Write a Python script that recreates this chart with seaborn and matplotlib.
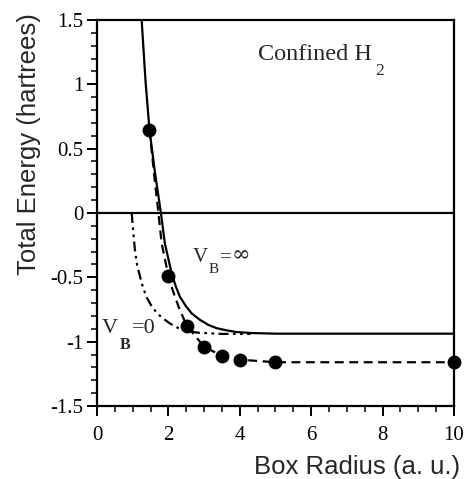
import matplotlib
matplotlib.use("Agg")
import matplotlib.pyplot as plt
import seaborn as sns
import numpy as np
import pandas as pd
from matplotlib.ticker import MultipleLocator, FuncFormatter

# V_B = infinity curve (solid)
inf_r = [1.25, 1.36, 1.47, 1.62, 1.79, 1.90, 2.09, 2.20, 2.32, 2.48, 2.65, 2.88,
         3.12, 3.35, 3.59, 3.90, 4.33, 5.00, 10.0]
inf_e = [1.50, 1.02, 0.645, 0.32, 0.00, -0.235, -0.47, -0.565, -0.65, -0.72, -0.78,
         -0.83, -0.87, -0.895, -0.91, -0.925, -0.933, -0.938, -0.938]

# V_B = 0 curve (dash-dot)
zero_r = [0.97, 1.06, 1.12, 1.25, 1.38, 1.53, 1.70, 1.90, 2.05, 2.28, 2.80, 3.50, 4.30]
zero_e = [0.00, -0.285, -0.40, -0.545, -0.65, -0.725, -0.785, -0.83, -0.86, -0.895,
          -0.93, -0.94, -0.94]

# dashed curve through the computed points
dash_r = [1.47, 1.60, 1.72, 1.81, 2.00, 2.12, 2.28, 2.51, 3.0, 3.5, 4.0, 5.0, 10.0]
dash_e = [0.645, 0.30, 0.00, -0.235, -0.49, -0.60, -0.725, -0.875, -1.04, -1.11,
          -1.14, -1.16, -1.16]

# computed points (filled circles)
pts_r = [1.47, 2.0, 2.51, 3.0, 3.5, 4.0, 5.0, 10.0]
pts_e = [0.645, -0.49, -0.875, -1.04, -1.11, -1.14, -1.16, -1.16]

sns.set_style("ticks")
fig = plt.figure(figsize=(4.66, 4.79), dpi=100)
ax = fig.add_axes([0.2082, 0.1524, 0.766, 0.806])

sns.lineplot(x=inf_r, y=inf_e, ax=ax, color="black", lw=1.6, sort=False, estimator=None)
sns.lineplot(x=zero_r, y=zero_e, ax=ax, color="black", lw=1.6, sort=False, estimator=None)
ax.lines[-1].set_dashes((4.5, 2, 1.2, 2, 1.2, 2))
sns.lineplot(x=dash_r, y=dash_e, ax=ax, color="black", lw=1.6, sort=False, estimator=None)
ax.lines[-1].set_dashes((4, 2.5))
sns.scatterplot(x=pts_r, y=pts_e, ax=ax, color="black", s=100, linewidth=0, zorder=5,
                clip_on=False)
ax.axhline(0, color="black", lw=1.6)

ax.set_xlim(0, 10)
ax.set_ylim(-1.5, 1.5)
ax.xaxis.set_major_locator(MultipleLocator(2))
ax.xaxis.set_minor_locator(MultipleLocator(0.5))
ax.yaxis.set_major_locator(MultipleLocator(0.5))
ax.yaxis.set_minor_locator(MultipleLocator(0.1))
fmt = FuncFormatter(lambda v, p: ("%g" % v) if abs(v) > 1e-9 else "0")
ax.xaxis.set_major_formatter(fmt)
ax.yaxis.set_major_formatter(fmt)
ax.tick_params(which="major", direction="out", length=7.5, width=1.4, labelsize=15,
               color="black", labelcolor="black")
ax.tick_params(which="minor", direction="out", length=4, width=1.1, color="black")
ax.tick_params(axis="x", which="major", pad=7)
ax.tick_params(axis="y", which="major", pad=2.5)
for lab in ax.get_xticklabels() + ax.get_yticklabels():
    lab.set_family("Liberation Serif")
for s in ax.spines.values():
    s.set_linewidth(1.6)
    s.set_color("black")

ax.set_xlabel("Box Radius (a. u.)", fontsize=18.5, family="Liberation Sans", loc="right")
ax.set_ylabel("Total Energy (hartrees)", fontsize=18.5, family="Liberation Sans", loc="top")
ax.xaxis.set_label_coords(1.017, -0.128)
ax.yaxis.set_label_coords(-0.158, 1.018)

serif = "Liberation Serif"
ax.text(4.52, 1.186, "Confined H", fontsize=17.5, family=serif, ha="left", va="baseline")
ax.text(7.80, 1.07, "2", fontsize=12.5, family=serif, ha="left", va="baseline")

ax.text(2.69, -0.38, "V", fontsize=15, family=serif, ha="left", va="baseline")
ax.text(3.13, -0.465, "B", fontsize=11, family=serif, ha="left", va="baseline")
ax.text(3.45, -0.38, "=", fontsize=15, family=serif, ha="left", va="baseline")
ax.text(3.78, -0.38, "\u221e", fontsize=16, family="DejaVu Serif", ha="left", va="baseline")

ax.text(0.14, -0.93, "V", fontsize=16, family=serif, ha="left", va="baseline")
ax.text(0.64, -1.06, "B", fontsize=11.5, family=serif, ha="left", va="baseline",
        weight="bold")
ax.text(0.98, -0.93, "=0", fontsize=16, family=serif, ha="left", va="baseline")

fig.savefig("out.png", dpi=100)
